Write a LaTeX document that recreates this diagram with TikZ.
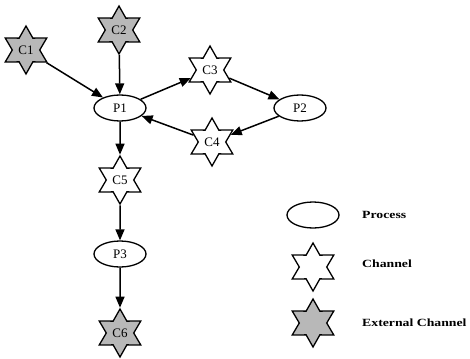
\documentclass[tikz,border=0pt]{standalone}
\usepackage{fontspec}
\setmainfont{Liberation Serif}
\usetikzlibrary{shapes.geometric,arrows.meta}
\definecolor{extgray}{gray}{0.72}
\tikzset{
  proc/.style={ellipse, draw, line width=1.3pt, fill=white, minimum width=52pt, minimum height=26pt, inner sep=0pt, font=\fontsize{13}{15}\selectfont},
  chan/.style={star, star points=6, star point ratio=1.75, draw, line width=1.3pt, fill=white, minimum size=48pt, inner sep=0pt, font=\fontsize{13}{15}\selectfont},
  extchan/.style={chan, fill=extgray},
  flow/.style={line width=1.5pt, -{Triangle[length=11pt,width=9pt]}},
  legendtext/.style={anchor=west, inner sep=0pt, font=\fontsize{11}{13}\selectfont\bfseries}
}
\begin{document}
\begin{tikzpicture}[x=1pt,y=-1pt]
  \useasboundingbox (0,0) rectangle (470,358);
  % graph nodes
  \node[extchan] (c1) at (26,50) {C1};
  \node[extchan] (c2) at (119,30) {C2};
  \node[proc] (p1) at (120,108) {P1};
  \node[chan] (c3) at (210,70) {C3};
  \node[proc] (p2) at (300,108) {P2};
  \node[chan] (c4) at (212,142) {C4};
  \node[chan] (c5) at (120,180) {C5};
  \node[proc] (p3) at (120,254) {P3};
  \node[extchan] (c6) at (120,333) {C6};
  % connectors
  \draw[flow] (c1) -- (p1);
  \draw[flow] (c2) -- (p1);
  \draw[flow] (p1) -- (c3);
  \draw[flow] (c3) -- (p2);
  \draw[flow] (p2) -- (c4);
  \draw[flow] (c4) -- (p1);
  \draw[flow] (p1) -- (c5);
  \draw[flow] (c5) -- (p3);
  \draw[flow] (p3) -- (c6);
  % legend
  \node[proc] (lp) at (313,215) {};
  \node[chan] (lc) at (313,267) {};
  \node[extchan] (le) at (313,323) {};
  \node[legendtext] (tp) at (362,215) {\scalebox{1.25}[1]{Process}};
  \node[legendtext] (tc) at (362,264) {\scalebox{1.25}[1]{Channel}};
  \node[legendtext] (te) at (362,323) {\scalebox{1.25}[1]{External Channel}};
\end{tikzpicture}
\end{document}
